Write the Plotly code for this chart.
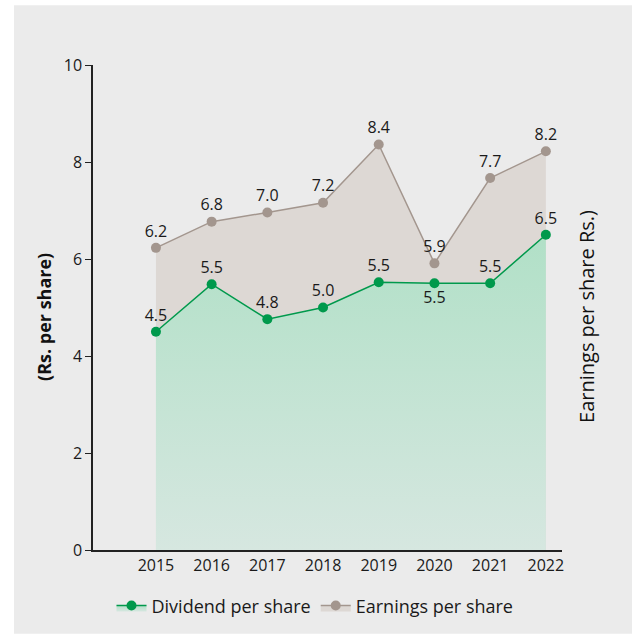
import plotly.graph_objects as go

years = [2015, 2016, 2017, 2018, 2019, 2020, 2021, 2022]
dividend = [4.5, 5.48, 4.76, 5.0, 5.52, 5.5, 5.5, 6.5]
earnings = [6.23, 6.77, 6.96, 7.16, 8.36, 5.91, 7.67, 8.22]
div_text_pos = ["top center"] * 5 + ["bottom center"] + ["top center"] * 2
y_ticks = [0, 2, 4, 6, 8, 10]

FONT = "Open Sans"
GREEN = "#00994c"
TAUPE = "#a3968e"

fig = go.Figure()

fig.add_trace(go.Scatter(
    x=years, y=earnings, name="Earnings per share",
    mode="lines+markers+text",
    line=dict(color=TAUPE, width=1.5),
    marker=dict(color=TAUPE, size=10),
    fill="tozeroy", fillcolor="#ddd8d4",
    texttemplate="%{y:.1f}", textposition="top center",
    textfont=dict(size=16, color="#1a1a1a", family=FONT),
))

fig.add_trace(go.Scatter(
    x=years, y=dividend, name="Dividend per share",
    mode="lines+markers+text",
    line=dict(color=GREEN, width=1.5),
    marker=dict(color=GREEN, size=10),
    fill="tozeroy",
    fillgradient=dict(type="vertical",
                      colorscale=[[0, "#d6e7e0"], [1, "#b1e0c7"]]),
    texttemplate="%{y:.1f}", textposition=div_text_pos,
    textfont=dict(size=16, color="#1a1a1a", family=FONT),
))

L, R, T, B = 93, 70, 65, 84
W, H = 632, 636
pw, ph = W - L - R, H - T - B

fig.add_shape(type="rect", xref="paper", yref="paper", layer="below",
              x0=(14 - L) / pw, x1=(W - L) / pw,
              y0=(H - B - H) / ph, y1=(H - B - 5) / ph,
              fillcolor="#ebebeb", line=dict(width=0))

fig.add_annotation(xref="paper", yref="paper",
                   x=(587 - L) / pw, y=(H - B - 318) / ph,
                   xanchor="center", yanchor="middle",
                   text="Earnings per share Rs.)", textangle=-90,
                   showarrow=False, font=dict(size=20, color="#111", family=FONT))

fig.add_annotation(xref="paper", yref="paper",
                   x=(44 - L) / pw, y=(H - B - 318) / ph,
                   xanchor="center", yanchor="middle",
                   text="<b>(Rs. per share)</b>", textangle=-90,
                   showarrow=False, font=dict(size=18, color="#111", family=FONT))

fig.update_layout(
    width=W, height=H,
    margin=dict(l=L, r=R, t=T, b=B),
    paper_bgcolor="white", plot_bgcolor="rgba(0,0,0,0)",
    font=dict(family=FONT, size=16, color="#1a1a1a"),
    showlegend=True,
    legend=dict(orientation="h", x=(315 - L) / pw, xanchor="center",
                y=(H - B - 608) / ph, yanchor="middle",
                traceorder="reversed", font=dict(size=18),
                bgcolor="rgba(0,0,0,0)", itemwidth=30),
    xaxis=dict(range=[2013.87, 2022.29], tickvals=years,
               showgrid=False, zeroline=False, showline=True,
               linecolor="#222", linewidth=1.5, ticks="",
               tickfont=dict(size=16)),
    yaxis=dict(range=[0, 10], tickvals=y_ticks, showgrid=False,
               zeroline=False, showline=True, linecolor="#222",
               linewidth=1.5, ticks="outside", ticklen=6, tickcolor="#222",
               tickfont=dict(size=16)),
)

fig.write_html("out.html")
